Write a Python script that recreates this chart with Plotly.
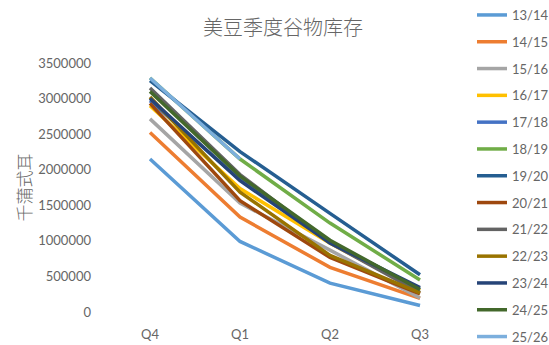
import plotly.graph_objects as go

# Quarterly US soybean stocks, thousand bushels, by marketing year
quarters = ["Q4", "Q1", "Q2", "Q3"]
years = ["13/14", "14/15", "15/16", "16/17", "17/18", "18/19", "19/20",
         "20/21", "21/22", "22/23", "23/24", "24/25", "25/26"]

s_13_14 = [2150000, 992000, 405000, 92000]
s_14_15 = [2524000, 1334000, 627000, 191000]
s_15_16 = [2715000, 1531000, 870000, 197000]
s_16_17 = [2899000, 1735000, 966000, 302000]
s_17_18 = [2970000, 1860000, 985000, 320000]
s_18_19 = [3290000, 2150000, 1250000, 450000]
s_19_20 = [3252000, 2255000, 1386000, 523000]
s_20_21 = [2933000, 1564000, 767000, 256000]
s_21_22 = [3149000, 1931000, 971000, 274000]
s_22_23 = [3022000, 1685000, 796000, 268000]
s_23_24 = [3000000, 1845000, 970000, 342000]
s_24_25 = [3100000, 1910000, 1008000, 316000]
s_25_26 = [3290000, 2150000]

series = [s_13_14, s_14_15, s_15_16, s_16_17, s_17_18, s_18_19, s_19_20,
          s_20_21, s_21_22, s_22_23, s_23_24, s_24_25, s_25_26]

colors = ["#5B9BD5", "#ED7D31", "#A5A5A5", "#FFC000", "#4472C4", "#70AD47",
          "#255E91", "#9E480E", "#636363", "#997300", "#264478", "#43682B",
          "#7CAFDD"]

fig = go.Figure()
for name, vals, col in zip(years, series, colors):
    fig.add_trace(go.Scatter(
        x=quarters[:len(vals)], y=vals, name=name, mode="lines",
        line=dict(color=col, width=3.5),
        legendgroup=name,
    ))

text_col = "#666666"
fig.update_layout(
    width=549, height=345,
    margin=dict(l=105, r=84, t=63, b=33, autoexpand=False),
    paper_bgcolor="white", plot_bgcolor="white",
    font=dict(family="Lato, sans-serif", size=13, color=text_col),
    title=dict(text="美豆季度谷物库存", x=283 / 549, xanchor="center",
               y=1 - 28 / 345, yanchor="middle",
               font=dict(family="Noto Sans CJK SC", size=20, weight=300,
                         color=text_col)),
    xaxis=dict(type="category", range=[-0.5, 3.5], showgrid=False,
               showline=False, zeroline=False, ticks="", automargin=False,
               ticklabelstandoff=13),
    yaxis=dict(range=[0, 3500000], dtick=500000, showgrid=False,
               showline=False, zeroline=False, ticks="", automargin=False,
               tickformat="d", ticklabelstandoff=13,
               title=dict(text="千蒲式耳", standoff=2,
                          font=dict(family="Noto Sans CJK SC", size=17,
                                    weight=300, color=text_col))),
    legend=dict(xref="container", yref="container", x=472 / 549,
                xanchor="left", y=1.0, yanchor="top", maxheight=345,
                tracegroupgap=6.9, font=dict(size=13, color=text_col),
                bgcolor="rgba(0,0,0,0)"),
    showlegend=True,
)

fig.write_html("out.html")
